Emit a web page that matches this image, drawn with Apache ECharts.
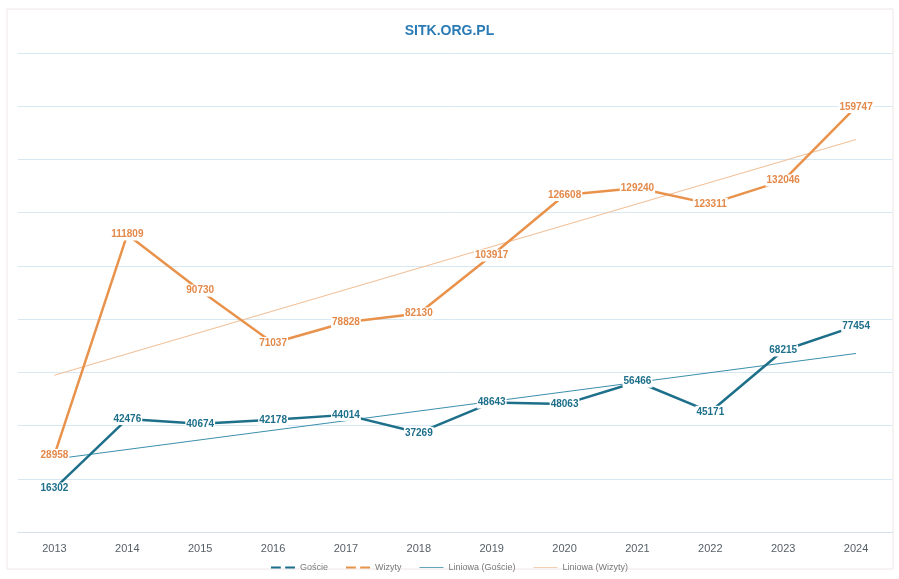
<!DOCTYPE html>
<html>
<head>
<meta charset="utf-8">
<script src="https://cdn.jsdelivr.net/npm/echarts@6/dist/echarts.min.js"></script>
<style>
html,body{margin:0;padding:0;background:#fff;}
#c{width:899px;height:579px;}
</style>
</head>
<body>
<div id="c"></div>
<script>
const years = ['2013','2014','2015','2016','2017','2018','2019','2020','2021','2022','2023','2024'];
const goscie = [16302, 42476, 40674, 42178, 44014, 37269, 48643, 48063, 56466, 45171, 68215, 77454];
const wizyty = [28958, 111809, 90730, 71037, 78828, 82130, 103917, 126608, 129240, 123311, 132046, 159747];
// trend line endpoints (2013 and 2024)
const trendGoscie = [27400, 67100];
const trendWizyty = [58900, 147500];

const cTeal = '#1d6f8a';
const cOrange = '#e8924c';
const cTealTrend = '#3b8fab';
const cOrangeTrend = '#f0c29c';

const chart = echarts.init(document.getElementById('c'), null, {renderer:'canvas'});
const dashIcon = 'path://M0,0h9v2H0z M13,0h9v2H13z';
const solidIcon = 'path://M0,0h30v1H0z';
function lbl(color){
  return {show:true, position:'inside', color:color, fontSize:10, fontWeight:'bold',
    fontFamily:'Liberation Sans, Arial, sans-serif', backgroundColor:'#ffffff', padding:[1,1]};
}
chart.setOption({
  backgroundColor:'#ffffff',
  animation:false,
  title:{text:'SITK.ORG.PL', left:'center', top:19,
    textStyle:{color:'#2a7bb5', fontSize:14, fontWeight:'bold', fontFamily:'Liberation Sans, Arial, sans-serif'}},
  graphic:[{type:'rect', shape:{x:7, y:9, width:886, height:560}, style:{fill:'none', stroke:'#ece6e4', lineWidth:1}, silent:true, z:-1}],
  grid:{left:18, right:6.5, top:53, bottom:47, containLabel:false},
  legend:{bottom:2, left:'center', itemGap:18, itemWidth:24, itemHeight:8,
    textStyle:{color:'#7a7a7a', fontSize:9, fontFamily:'Liberation Sans, Arial, sans-serif'},
    data:[
      {name:'Goście', icon:dashIcon},
      {name:'Wizyty', icon:dashIcon},
      {name:'Liniowa (Goście)', icon:solidIcon},
      {name:'Liniowa (Wizyty)', icon:solidIcon}
    ]},
  xAxis:{type:'category', data:years, boundaryGap:true,
    axisLine:{show:true, lineStyle:{color:'#d3e2ee', width:1}},
    axisTick:{show:false},
    axisLabel:{color:'#555f66', fontSize:11, margin:11, fontFamily:'Liberation Sans, Arial, sans-serif'},
    splitLine:{show:false}},
  yAxis:{type:'value', min:0, max:180000, interval:20000,
    axisLabel:{show:false}, axisLine:{show:false}, axisTick:{show:false},
    splitLine:{show:true, lineStyle:{color:'#d8e8f3', width:1}}},
  series:[
    {name:'Liniowa (Goście)', type:'line', data:[[years[0], trendGoscie[0]],[years[11], trendGoscie[1]]],
      symbol:'none', lineStyle:{color:cTealTrend, width:1}, itemStyle:{color:cTealTrend}, z:1, silent:true},
    {name:'Liniowa (Wizyty)', type:'line', data:[[years[0], trendWizyty[0]],[years[11], trendWizyty[1]]],
      symbol:'none', lineStyle:{color:cOrangeTrend, width:1.2}, itemStyle:{color:cOrangeTrend}, z:1, silent:true},
    {name:'Goście', type:'line', data:goscie, symbol:'circle', symbolSize:1,
      lineStyle:{color:cTeal, width:2.5}, itemStyle:{color:cTeal}, label:lbl(cTeal), z:3},
    {name:'Wizyty', type:'line', data:wizyty, symbol:'circle', symbolSize:1,
      lineStyle:{color:cOrange, width:2.5}, itemStyle:{color:cOrange}, label:lbl('#e3894a'), z:3}
  ]
});
</script>
</body>
</html>
